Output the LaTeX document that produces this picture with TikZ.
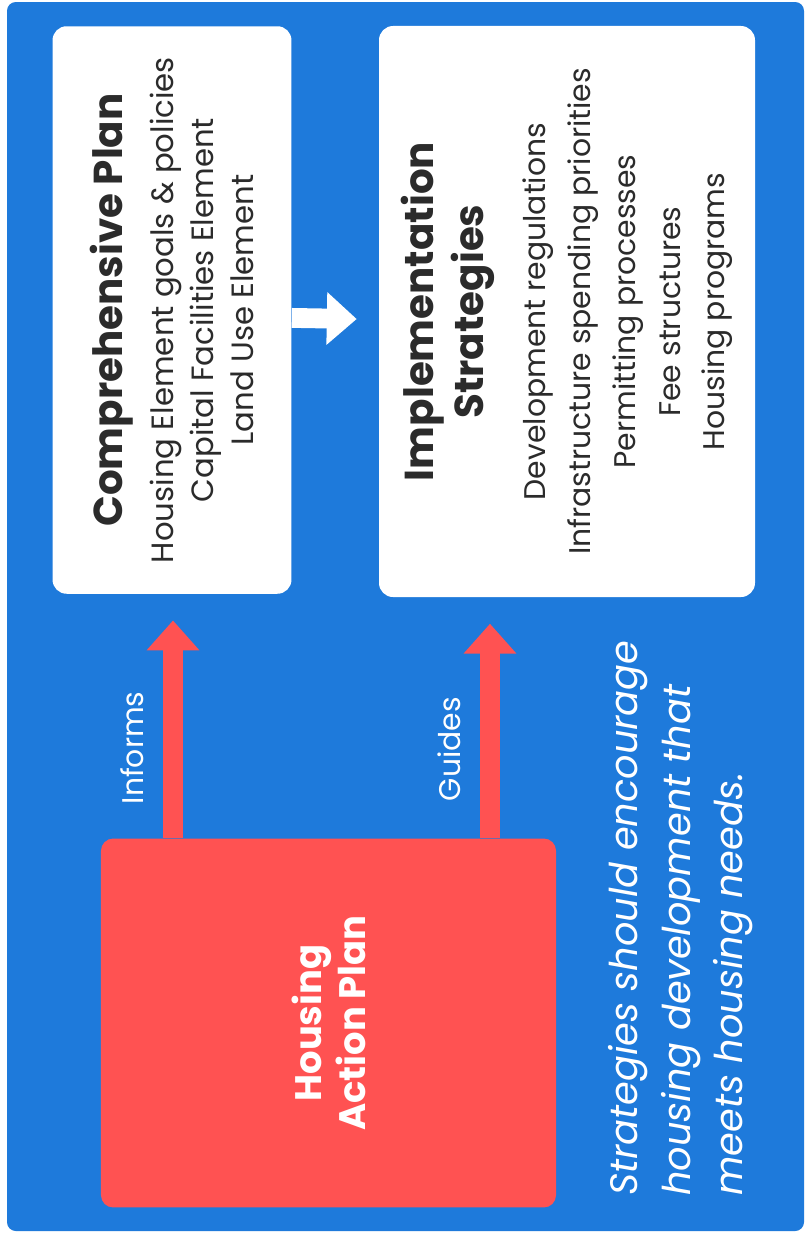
\documentclass[tikz,border=0pt]{standalone}
\usepackage{fontspec}
\setmainfont{Poppins}
\usetikzlibrary{arrows.meta,positioning}
\definecolor{planblue}{HTML}{1E7ADB}
\definecolor{hapred}{HTML}{FF5252}
\definecolor{inktext}{HTML}{2B2B2B}
\newcommand{\cardtitle}{\fontsize{23}{27}\selectfont\bfseries}

\begin{document}
\begin{tikzpicture}[x=0.02cm,y=-0.02cm,>={Triangle[length=17pt,width=29pt]},
    card/.style={rotate=90,fill=white,rounded corners=8pt,text=inktext,align=center},
    hapbox/.style={rotate=90,fill=hapred,rounded corners=7pt,text=white,align=center,
                   font=\fontsize{21}{25}\selectfont\bfseries},
    redarrow/.style={->,draw=hapred,line width=11.3pt,shorten >=15pt},
    wharrow/.style={->,draw=white,line width=11.3pt,shorten >=12.5pt},
    arrowlabel/.style={rotate=90,anchor=south,inner sep=11pt,text=white,
                       font=\fontsize{17}{20}\selectfont}]
  \useasboundingbox (0,0) rectangle (805,1238);
  \fill[planblue,rounded corners=5pt] (7,2) rectangle (804,1231);
  % the three boxes
  \node[card,minimum width=323pt,minimum height=136pt,
        font=\fontsize{17.5}{22.7}\selectfont] (comp) at (172,310)
    {{\cardtitle Comprehensive Plan}\\[6pt]
     Housing Element goals \& policies\\
     Capital Facilities Element\\
     Land Use Element};
  \node[card,minimum width=325pt,minimum height=214pt,
        font=\fontsize{17}{25.5}\selectfont] (impl) at (567,311.5)
    {{\cardtitle Implementation}\\[3pt]
     {\cardtitle Strategies}\\[10pt]
     Development regulations\\
     Infrastructure spending priorities\\
     Permitting processes\\
     Fee structures\\
     Housing programs};
  \node[hapbox,minimum width=210pt,minimum height=259pt] (hap) at (328.5,1023)
    {Housing\\Action Plan};
  % arrows
  \coordinate (inf) at (173,700);
  \coordinate (gui) at (490,700);
  \draw[redarrow] (hap.east -| inf) -- node[arrowlabel,pos=0.37] {Informs} (comp.west -| inf);
  \draw[redarrow] (hap.east -| gui) -- node[arrowlabel,pos=0.37] {Guides} (impl.west -| gui);
  \draw[wharrow] ([yshift=-4.5pt]comp.south) -- ([yshift=-4.5pt]impl.north);
  % note
  \node[rotate=90,anchor=north west,inner sep=0pt,align=left,text=white,
        font=\fontsize{21.8}{30}\selectfont\itshape] (note) at (608,1196)
    {Strategies should encourage\\
     housing development that\\
     meets housing needs.};
\end{tikzpicture}
\end{document}
